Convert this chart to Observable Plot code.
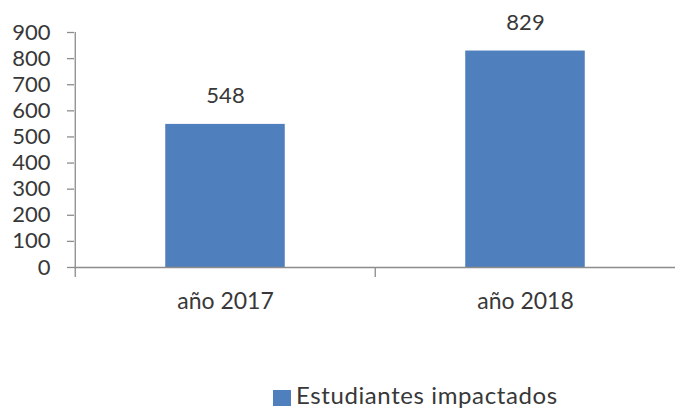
<!DOCTYPE html>
<html>
<head>
<meta charset="utf-8">
<script src="https://cdn.jsdelivr.net/npm/d3@7"></script>
<script src="https://cdn.jsdelivr.net/npm/@observablehq/plot@0.6"></script>
<style>
  html, body { margin: 0; padding: 0; background: #fff; }
  body { width: 675px; height: 408px; overflow: hidden; font-family: Lato, "Open Sans", sans-serif; color: #383838; }
  #chart svg { display: block; }
  #legend { position: relative; height: 48px; }
  #legend .sw { position: absolute; left: 273px; top: 30px; width: 18px; height: 16px; background: #4F7FBC; }
  #legend .lb { position: absolute; left: 296px; top: 21px; font-size: 24px; letter-spacing: 0.6px; line-height: 28px; color: #383838; white-space: nowrap; }
</style>
</head>
<body>
<div id="chart"></div>
<div id="legend"><span class="sw"></span><span class="lb">Estudiantes impactados</span></div>
<script>
const categories = ["año 2017", "año 2018"];
const values = [548, 829];
const yTicks = [0, 100, 200, 300, 400, 500, 600, 700, 800, 900];
const seriesName = "Estudiantes impactados";

const data = categories.map((c, i) => ({cat: c, value: values[i]}));

const W = 675, H = 360, mL = 74, mR = 0, mT = 32, mB = 93;
const step = (W - mL - mR) / categories.length;
const barW = 120;
const inset = (step - barW) / 2;
const ink = "#383838";
const axisColor = "#8c8c8c";

const chart = Plot.plot({
  width: W,
  height: H,
  marginLeft: mL,
  marginRight: mR,
  marginTop: mT,
  marginBottom: mB,
  style: {fontFamily: "Lato, 'Open Sans', sans-serif", color: ink, background: "#fff"},
  x: {domain: categories, padding: 0, label: null},
  y: {domain: [0, 900], label: null},
  marks: [
    Plot.barY(data, {x: "cat", y: "value", fill: "#4F7FBC", insetLeft: inset, insetRight: inset}),
    Plot.ruleY([0], {stroke: axisColor, strokeWidth: 1.3}),
    Plot.ruleX([categories[0]], {x: d => d, dx: -step / 2, y1: 900, y2: 0, insetBottom: -10, stroke: axisColor, strokeWidth: 1.3}),
    Plot.ruleX(categories.slice(1), {x: d => d, dx: -step / 2, y1: 0, y2: 0, insetBottom: -10, stroke: axisColor, strokeWidth: 1.3}),
    Plot.axisY({ticks: yTicks, tickSize: 7, tickPadding: 17, fontSize: 22, stroke: axisColor, fill: ink, label: null}),
    Plot.axisX({tickSize: 0, tickPadding: 25, fontSize: 23, fill: ink, label: null}),
    Plot.text(data, {x: "cat", y: "value", text: d => String(d.value), dy: -28, fontSize: 22, fill: ink})
  ]
});
chart.querySelectorAll("[aria-label='y-axis tick'] path").forEach(p => p.setAttribute("stroke-width", "1.3"));
document.getElementById("chart").appendChild(chart);
document.querySelector("#legend .lb").textContent = seriesName;
</script>
</body>
</html>
